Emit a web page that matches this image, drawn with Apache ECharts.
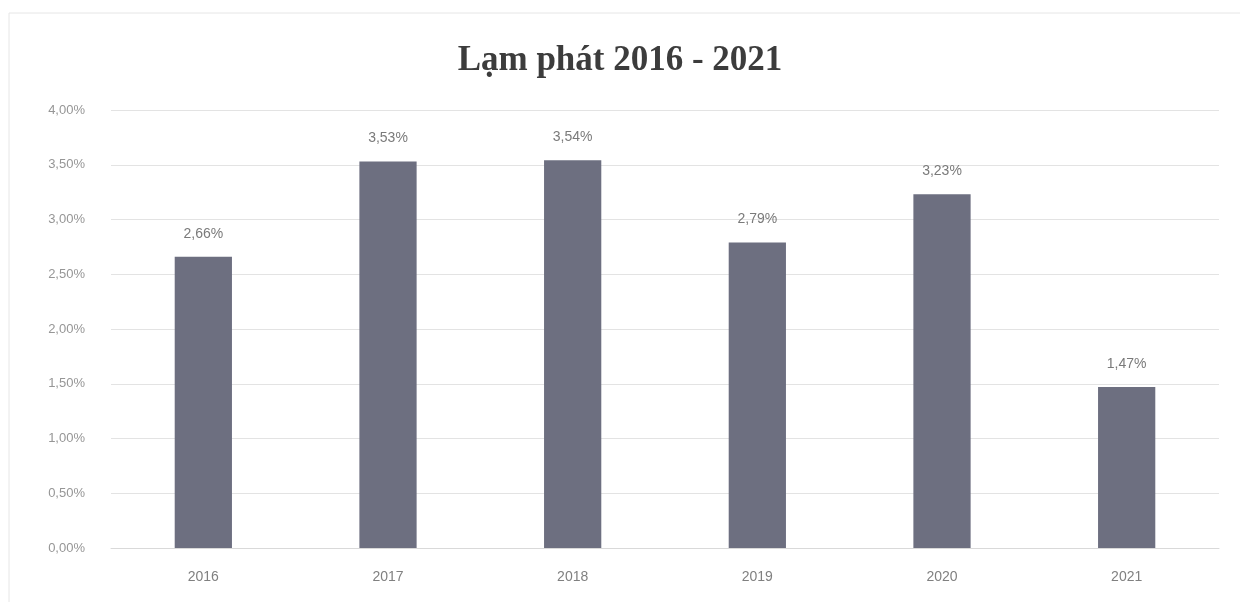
<!DOCTYPE html>
<html>
<head>
<meta charset="utf-8">
<script src="https://cdn.jsdelivr.net/npm/echarts@6/dist/echarts.min.js"></script>
<style>
  html, body { margin: 0; padding: 0; background: #fff; }
  #chart { width: 1240px; height: 602px; }
</style>
</head>
<body>
<div id="chart"></div>
<script>
const years = ['2016', '2017', '2018', '2019', '2020', '2021']
const inflation = [2.66, 3.53, 3.54, 2.79, 3.23, 1.47]
const titleText = 'Lạm phát 2016 - 2021'

const pct = (v) => v.toFixed(2).replace('.', ',') + '%'

var myChart = echarts.init(document.getElementById('chart'))
var option = {
    backgroundColor: '#ffffff',
    animation: false,
    // faint chart-area frame, like the Excel original
    graphic: [{
        type: 'rect',
        shape: { x: 9, y: 13, width: 1240, height: 600 },
        style: { fill: 'none', stroke: '#e6e6e6', lineWidth: 1 },
        silent: true
    }],
    title: {
        text: titleText,
        left: 'center',
        top: 38,
        textStyle: {
            fontFamily: 'Liberation Serif',
            fontWeight: 'bold',
            fontSize: 35,
            color: '#3c3c3c'
        }
    },
    grid: {
        left: 111,
        right: 21,
        top: 110,
        bottom: 54,
        containLabel: false
    },
    xAxis: {
        type: 'category',
        data: years,
        axisLine: { lineStyle: { color: '#d9d9d9' } },
        axisTick: { show: false },
        axisLabel: {
            color: '#808080',
            fontSize: 14,
            fontFamily: 'Liberation Sans',
            margin: 22
        }
    },
    yAxis: {
        type: 'value',
        min: 0,
        max: 4,
        interval: 0.5,
        axisLine: { show: false },
        axisTick: { show: false },
        splitLine: { lineStyle: { color: '#e3e3e3', width: 1 } },
        axisLabel: {
            color: '#969696',
            fontSize: 13,
            fontFamily: 'Liberation Sans',
            margin: 26,
            formatter: (v) => pct(v)
        }
    },
    series: [{
        type: 'bar',
        data: inflation,
        barWidth: '31%',
        itemStyle: { color: '#6d6f80' },
        label: {
            show: true,
            position: 'top',
            distance: 16,
            color: '#7a7a7a',
            fontSize: 14,
            fontFamily: 'Liberation Sans',
            formatter: (p) => pct(p.value)
        }
    }]
}
myChart.setOption(option)
</script>
</body>
</html>
